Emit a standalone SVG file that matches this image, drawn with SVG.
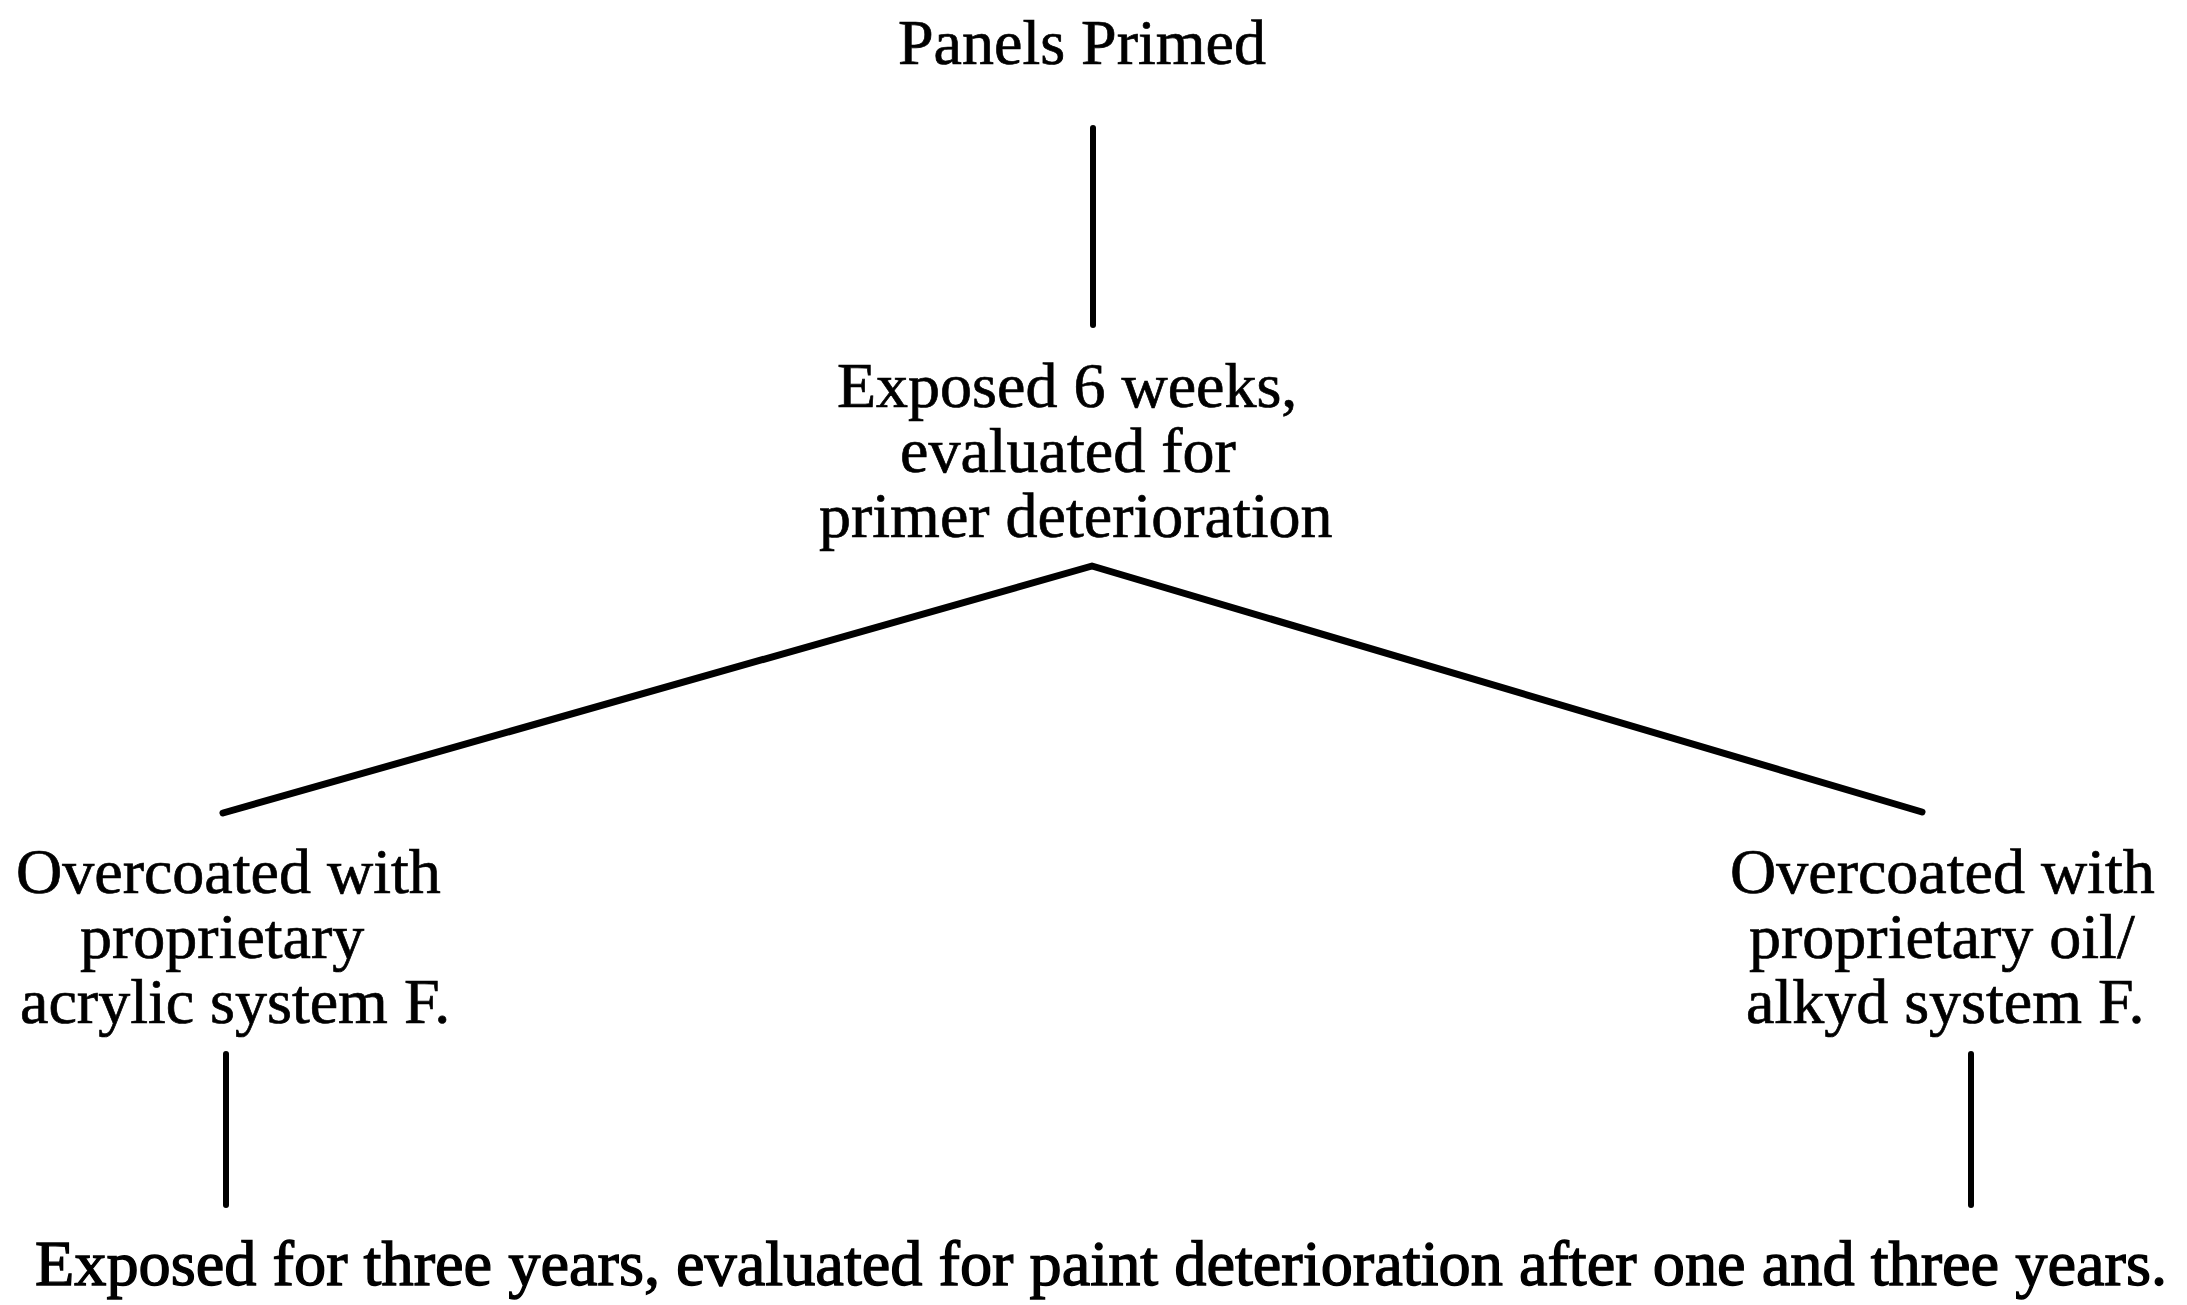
<svg xmlns="http://www.w3.org/2000/svg" width="2187" height="1305" viewBox="0 0 2187 1305">
  <style>
    .lbl { font-family: "Liberation Serif", "Times New Roman", serif; font-size: 64px; fill: #000; stroke: #000; stroke-width: 0.7; }
    .heavy { stroke-width: 1.3; }
    .wire { fill: none; stroke: #000; stroke-width: 6; stroke-linecap: round; stroke-linejoin: round; }
    .branch { stroke-width: 7; }
  </style>
  <rect width="2187" height="1305" fill="#fff"/>

  <!-- connectors -->
  <g id="connectors">
    <line class="wire" x1="1093" y1="128" x2="1093" y2="325"/>
    <polyline class="wire branch" points="223,813 1092,566 1922,812"/>
    <line class="wire" x1="226" y1="1054" x2="226" y2="1205"/>
    <line class="wire" x1="1971" y1="1054" x2="1971" y2="1205"/>
  </g>

  <!-- nodes -->
  <g id="node-primed">
    <text class="lbl" x="898" y="64">Panels Primed</text>
  </g>

  <g id="node-exposed-6wk">
    <text class="lbl" x="837" y="407">Exposed 6 weeks,</text>
    <text class="lbl" x="900" y="472">evaluated for</text>
    <text class="lbl" x="819" y="537">primer deterioration</text>
  </g>

  <g id="node-acrylic">
    <text class="lbl" x="16" y="893">Overcoated with</text>
    <text class="lbl" x="80" y="958">proprietary</text>
    <text class="lbl" x="20" y="1023">acrylic system F.</text>
  </g>

  <g id="node-oil-alkyd">
    <text class="lbl" x="1730" y="893">Overcoated with</text>
    <text class="lbl" x="1749" y="958">proprietary oil/</text>
    <text class="lbl" x="1746" y="1023">alkyd system F.</text>
  </g>

  <g id="node-exposed-3yr">
    <text class="lbl heavy" x="35" y="1285" textLength="2132" lengthAdjust="spacingAndGlyphs">Exposed for three years, evaluated for paint deterioration after one and three years.</text>
  </g>
</svg>
